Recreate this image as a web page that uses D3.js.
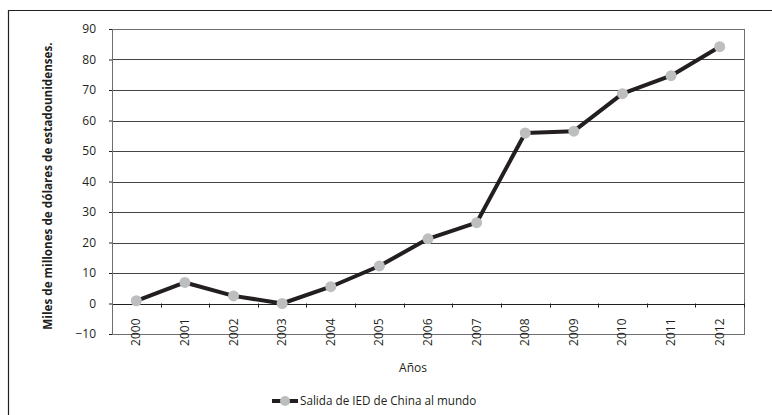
<!DOCTYPE html>
<html>
<head>
<meta charset="utf-8">
<script src="https://cdn.jsdelivr.net/npm/d3@7"></script>
<style>
  body { margin: 0; background: #fff; }
  text { font-family: "Open Sans", "Noto Sans", sans-serif; fill: #231f20; }
</style>
</head>
<body>
<div id="graph"></div>
<script>
const years = ["2000","2001","2002","2003","2004","2005","2006","2007","2008","2009","2010","2011","2012"]
const values = [0.9, 6.9, 2.5, 0.0, 5.5, 12.3, 21.2, 26.5, 55.9, 56.5, 68.8, 74.7, 84.2]
const yTicks = [-10, 0, 10, 20, 30, 40, 50, 60, 70, 80, 90]
const seriesName = "Salida de IED de China al mundo"

const W = 772, H = 415
const margin = { top: 29, right: 28, bottom: 81, left: 112 }
const width = W - margin.left - margin.right
const height = H - margin.top - margin.bottom

const svg = d3.select("#graph").append("svg")
  .attr("width", W)
  .attr("height", H)

// outer frame (bottom/right run off the picture)
svg.append("path")
  .attr("d", "M8.5," + (H + 2) + "V10.5H" + (W + 2))
  .attr("fill", "none")
  .attr("stroke", "#231f20")
  .attr("stroke-width", 1.2)

const g = svg.append("g")
  .attr("transform", "translate(" + margin.left + "," + margin.top + ")")

const x = d3.scaleBand().domain(years).range([0, width])
const y = d3.scaleLinear().domain([-10, 90]).range([height, 0])

// gridlines
g.selectAll(".grid")
  .data(yTicks.filter(d => d > -10))
  .enter().append("line")
  .attr("x1", 0).attr("x2", width)
  .attr("y1", d => Math.round(y(d)) + 0.5)
  .attr("y2", d => Math.round(y(d)) + 0.5)
  .attr("stroke", d => d === 0 ? "#231f20" : "#444")
  .attr("stroke-width", d => d === 0 ? 1.2 : 1)

// plot frame
g.append("rect")
  .attr("x", 0.5).attr("y", 0.5)
  .attr("width", width).attr("height", Math.round(height))
  .attr("fill", "none")
  .attr("stroke", "#6d6e71")
  .attr("stroke-width", 1)

// y axis
const yAxis = d3.axisLeft(y).tickValues(yTicks).tickSize(3).tickPadding(13)
g.append("g")
  .call(yAxis)
  .call(s => s.select(".domain").attr("stroke", "#6d6e71"))
  .call(s => s.selectAll("line").attr("stroke", "#231f20"))
  .selectAll("text")
  .style("font-size", "12px")
  .attr("fill", "#231f20")

// category ticks on the zero line
g.selectAll(".xtick")
  .data(years.slice(1).concat(["end"]))
  .enter().append("line")
  .attr("x1", (d, i) => Math.round(x.step() * (i + 1)) + 0.5)
  .attr("x2", (d, i) => Math.round(x.step() * (i + 1)) + 0.5)
  .attr("y1", y(0))
  .attr("y2", y(0) + 4)
  .attr("stroke", "#231f20")

// x labels, rotated
g.selectAll(".xlab")
  .data(years)
  .enter().append("text")
  .attr("transform", d => "translate(" + (x(d) + x.bandwidth() / 2 + 4) + "," + (y(0) + 15) + ") rotate(-90)")
  .attr("text-anchor", "end")
  .style("font-size", "12px")
  .text(d => d)

// line
const line = d3.line()
  .x((d, i) => x(years[i]) + x.bandwidth() / 2)
  .y(d => y(d))

g.append("path")
  .datum(values)
  .attr("d", line)
  .attr("fill", "none")
  .attr("stroke", "#231f20")
  .attr("stroke-width", 4)
  .attr("stroke-linejoin", "round")

g.selectAll("circle")
  .data(values)
  .enter().append("circle")
  .attr("cx", (d, i) => x(years[i]) + x.bandwidth() / 2)
  .attr("cy", d => y(d))
  .attr("r", 5.5)
  .attr("fill", "#bcbec0")

// titles
svg.append("text")
  .attr("transform", "translate(52,186) rotate(-90)")
  .attr("text-anchor", "middle")
  .style("font-size", "11.7px")
  .style("font-weight", "bold")
  .text("Miles de millones de dólares de estadounidenses.")

svg.append("text")
  .attr("x", 413)
  .attr("y", 372)
  .attr("text-anchor", "middle")
  .style("font-size", "12px")
  .text("Años")

// legend
const leg = svg.append("g").attr("transform", "translate(272,401)")
leg.append("line")
  .attr("x1", 0).attr("x2", 26)
  .attr("stroke", "#231f20")
  .attr("stroke-width", 4)
leg.append("circle")
  .attr("cx", 13).attr("r", 5)
  .attr("fill", "#bcbec0")
leg.append("text")
  .attr("x", 28)
  .attr("y", 4)
  .style("font-size", "11.7px")
  .text(seriesName)
</script>
</body>
</html>
